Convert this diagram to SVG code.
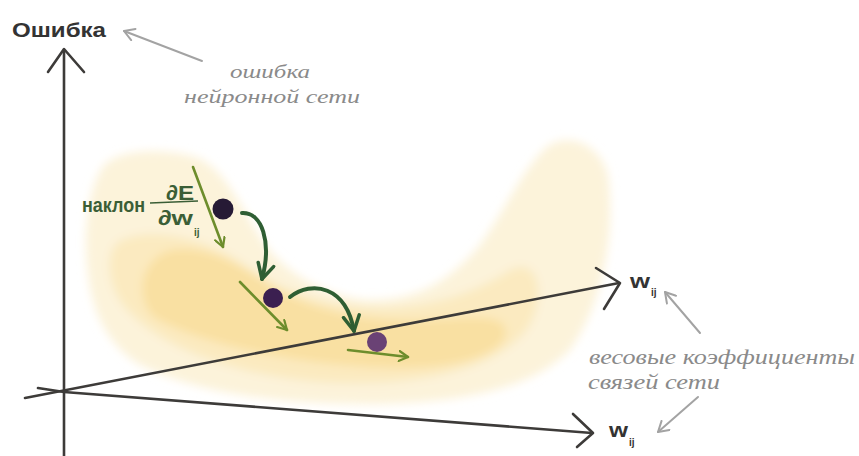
<svg xmlns="http://www.w3.org/2000/svg" width="859" height="456" viewBox="0 0 859 456">
<style>
.axis{fill:none;stroke:#3d3b39;stroke-width:2.6;stroke-linecap:round;stroke-linejoin:round}
.slope{fill:none;stroke:#6d8d2c;stroke-width:2.6;stroke-linecap:round}
.jump{fill:none;stroke:#2f5e33;stroke-width:4;stroke-linecap:round}
.note{fill:none;stroke:#a3a3a3;stroke-width:2;stroke-linecap:round}
.gray{font-family:"Liberation Serif","DejaVu Serif",serif;font-style:italic;fill:#8a8a8a}
.green{font-family:"Liberation Sans","DejaVu Sans",sans-serif;font-weight:bold;fill:#3b5e36}
.dark{font-family:"Liberation Sans","DejaVu Sans",sans-serif;font-weight:bold;fill:#333}
</style>
<defs>
<filter id="soft" x="-10%" y="-10%" width="120%" height="120%"><feGaussianBlur stdDeviation="5"/></filter>
<marker id="hs" viewBox="0 0 12 12" refX="10" refY="6" markerWidth="12" markerHeight="12" markerUnits="userSpaceOnUse" orient="auto"><path d="M1,1 L10,6 L1,11" fill="none" stroke="#6d8d2c" stroke-width="2.2" stroke-linecap="round" stroke-linejoin="round"/></marker>
<marker id="hj" viewBox="0 0 20 20" refX="17" refY="10" markerWidth="20" markerHeight="20" markerUnits="userSpaceOnUse" orient="auto"><path d="M2,2 L17,10 L2,18" fill="none" stroke="#2f5e33" stroke-width="3.5" stroke-linecap="round" stroke-linejoin="round"/></marker>
<marker id="hg" viewBox="0 0 14 14" refX="12" refY="7" markerWidth="14" markerHeight="14" markerUnits="userSpaceOnUse" orient="auto"><path d="M2,1 L12,7 L2,13" fill="none" stroke="#a3a3a3" stroke-width="2" stroke-linecap="round" stroke-linejoin="round"/></marker>
</defs>
<rect width="859" height="456" fill="#ffffff"/>
<g id="surface" filter="url(#soft)">
<path fill="#fcf3da" d="M100,172 C108,150 160,146 198,158 C225,170 240,205 262,240 C285,275 330,298 370,300 C420,300 450,280 480,245 C505,210 525,165 548,146 C570,132 600,145 608,175 C615,230 605,300 570,350 C530,390 460,402 380,404 C290,405 200,395 140,365 C100,340 88,300 86,250 C85,215 92,185 100,172 Z"/>
<path fill="#fbeac0" d="M118,242 C150,225 205,238 240,262 C280,292 330,308 385,308 C440,306 480,290 510,270 C540,255 548,300 525,332 C490,372 410,388 320,382 C230,375 155,345 123,305 C106,282 106,252 118,242 Z"/>
<path fill="#f9e0a2" d="M172,250 C205,244 240,264 275,288 C310,308 360,322 420,320 C470,318 505,312 506,332 C505,356 450,370 390,368 C300,365 205,346 155,318 C132,298 142,256 172,250 Z"/>
</g>
<g id="connectors">
<path class="axis" d="M64,456 L64,52"/>
<path class="axis" d="M48,72 L64,49 L84,72"/>
<path class="axis" d="M25,398 L619,283"/>
<path class="axis" d="M596,268 L620,283 L604,309"/>
<path class="axis" d="M38,388 L64,392 L592,433"/>
<path class="axis" d="M573,414 L593,433 L577,447"/>
<path class="slope" d="M193,167 L223,247" marker-end="url(#hs)"/>
<path class="slope" d="M240,282 L287,330" marker-end="url(#hs)"/>
<path class="slope" d="M348,350 L408,357" marker-end="url(#hs)"/>
<path class="jump" d="M242,213 C262,212 272,242 262,279" marker-end="url(#hj)"/>
<path class="jump" d="M290,297 C312,280 346,286 354,331" marker-end="url(#hj)"/>
<path class="note" d="M202,61 L124,31" marker-end="url(#hg)"/>
<path class="note" d="M700,333 L665,292" marker-end="url(#hg)"/>
<path class="note" d="M698,397 L658,432" marker-end="url(#hg)"/>
</g>
<g id="dot1"><circle cx="223" cy="209" r="10.5" fill="#261a35"/></g>
<g id="dot2"><circle cx="273" cy="298" r="10" fill="#3b1f50"/></g>
<g id="dot3"><circle cx="377" cy="342" r="10" fill="#6a4275"/></g>
<g id="label-error"><text class="dark" x="12" y="37" font-size="21" textLength="94" lengthAdjust="spacingAndGlyphs">Ошибка</text></g>
<g id="note-error">
<text class="gray" x="230" y="78" font-size="19" textLength="80" lengthAdjust="spacingAndGlyphs">ошибка</text>
<text class="gray" x="184" y="103" font-size="19" textLength="176" lengthAdjust="spacingAndGlyphs">нейронной сети</text>
</g>
<g id="label-slope">
<text class="green" x="82" y="212" font-size="21" textLength="63" lengthAdjust="spacingAndGlyphs">наклон</text>
<text class="green" x="166" y="200" font-size="21" textLength="28" lengthAdjust="spacingAndGlyphs">∂E</text>
<path d="M150,203 L198,201" stroke="#3b5e36" stroke-width="1.6" fill="none"/>
<text class="green" x="158" y="225" font-size="21" textLength="35" lengthAdjust="spacingAndGlyphs">∂w</text>
<text class="green" x="194" y="236" font-size="10">ij</text>
</g>
<g id="label-w1">
<text class="dark" x="630" y="288" font-size="21" textLength="20" lengthAdjust="spacingAndGlyphs">w</text>
<text class="dark" x="651" y="296" font-size="10">ij</text>
</g>
<g id="label-w2">
<text class="dark" x="609" y="437" font-size="21" textLength="19" lengthAdjust="spacingAndGlyphs">w</text>
<text class="dark" x="629" y="446" font-size="10">ij</text>
</g>
<g id="note-weights">
<text class="gray" x="589" y="364" font-size="20" textLength="266" lengthAdjust="spacingAndGlyphs">весовые коэффициенты</text>
<text class="gray" x="588" y="389" font-size="20" textLength="132" lengthAdjust="spacingAndGlyphs">связей сети</text>
</g>
</svg>
